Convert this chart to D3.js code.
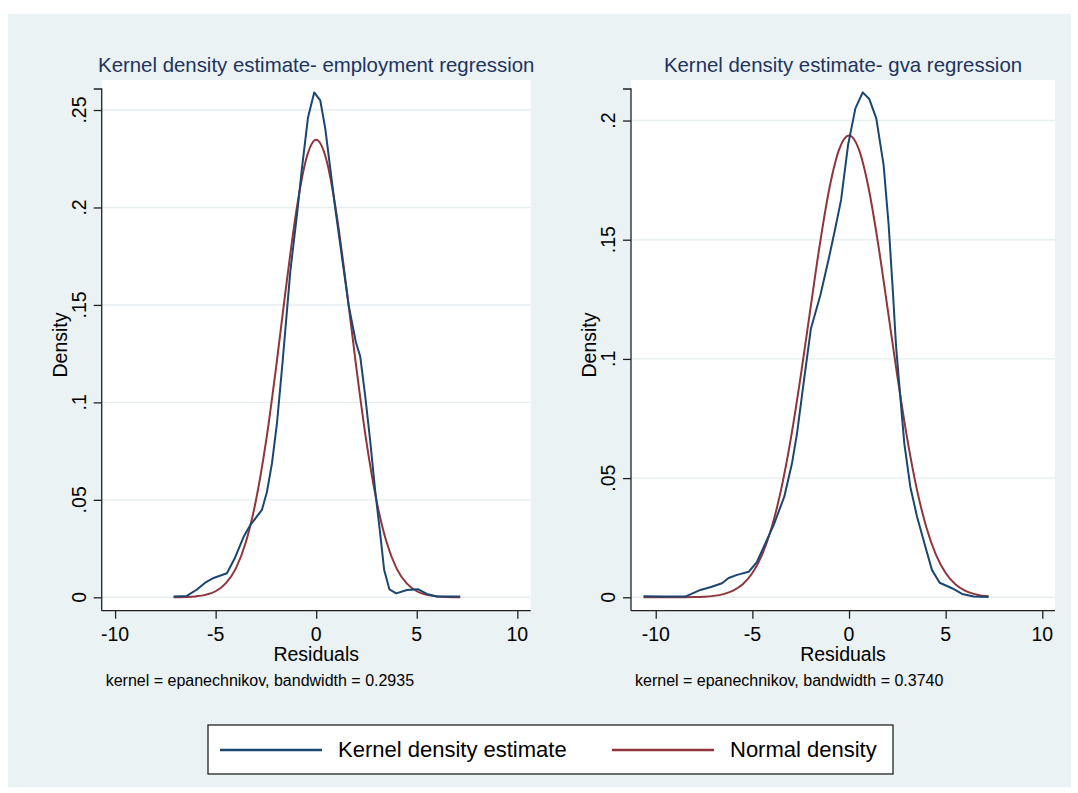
<!DOCTYPE html>
<html>
<head>
<meta charset="utf-8">
<script src="https://cdn.jsdelivr.net/npm/d3@7"></script>
<style>
  body { margin: 0; background: #ffffff; }
  text { font-family: 'Liberation Sans', Arial, sans-serif; }
</style>
</head>
<body>
<svg id="chart" width="1078" height="793"></svg>
<script>
// values
const seriesNames = ['Kernel density estimate', 'Normal density'];
const xTicks = [-10, -5, 0, 5, 10];

// employment regression
const empKdeX = [-7.09, -6.43, -5.93, -5.52, -5.10, -4.44, -4.05, -3.61, -3.28, -2.70, -2.45, -2.20, -1.95, -1.66, -1.29, -0.96, -0.71, -0.41, -0.10, 0.20, 0.45, 0.94, 1.61, 1.97, 2.19, 2.44, 2.68, 2.93, 3.18, 3.38, 3.64, 3.98, 4.51, 5.08, 5.50, 6.00, 7.16];
const empKdeY = [0.0004, 0.0007, 0.0040, 0.0075, 0.0099, 0.0123, 0.0200, 0.0310, 0.0370, 0.0448, 0.0540, 0.0687, 0.0893, 0.1220, 0.1670, 0.1960, 0.2200, 0.2460, 0.2590, 0.2550, 0.2406, 0.2000, 0.1500, 0.1310, 0.1235, 0.1030, 0.0807, 0.0550, 0.0328, 0.0140, 0.0041, 0.0020, 0.0037, 0.0041, 0.0017, 0.0004, 0.0004];
const empNormX = [-7.09, -6.5, -6, -5.5, -5, -4.5, -4, -3.5, -3, -2.5, -2, -1.5, -1, -0.5, 0, 0.5, 1, 1.5, 2, 2.5, 3, 3.5, 4, 4.5, 5, 5.5, 6, 6.5, 7.16];
const empNormY = [0.00004, 0.00016, 0.00046, 0.00125, 0.0031, 0.0071, 0.0147, 0.0282, 0.0495, 0.0796, 0.1175, 0.1591, 0.1974, 0.2247, 0.2347, 0.2247, 0.1974, 0.1591, 0.1175, 0.0796, 0.0495, 0.0282, 0.0147, 0.0071, 0.0031, 0.00125, 0.00046, 0.00016, 0.00004];
const empYTicks = [0, 0.05, 0.1, 0.15, 0.2, 0.25];

// gva regression
const gvaKdeX = [-10.63, -9.59, -8.47, -7.69, -7.18, -6.57, -6.23, -5.79, -5.19, -4.76, -4.33, -3.90, -3.35, -2.95, -2.69, -2.35, -1.97, -1.48, -1.05, -0.71, -0.41, -0.05, 0.33, 0.71, 1.05, 1.41, 1.79, 2.05, 2.27, 2.43, 2.58, 2.86, 3.17, 3.52, 3.95, 4.29, 4.69, 5.33, 5.85, 6.45, 7.22];
const gvaKdeY = [0.0004, 0.0003, 0.0003, 0.0031, 0.0042, 0.0059, 0.0081, 0.0094, 0.0107, 0.0149, 0.0226, 0.0303, 0.0422, 0.0562, 0.0688, 0.0898, 0.1128, 0.1268, 0.1420, 0.1548, 0.1667, 0.1897, 0.2051, 0.2118, 0.2090, 0.2009, 0.1813, 0.1562, 0.1282, 0.1058, 0.0911, 0.0646, 0.0464, 0.0338, 0.0212, 0.0115, 0.0061, 0.0038, 0.0014, 0.0003, 0.0001];
const gvaNormX = [-10.63, -10, -9.5, -9, -8.5, -8, -7.5, -7, -6.5, -6, -5.5, -5, -4.5, -4, -3.5, -3, -2.5, -2, -1.5, -1, -0.5, 0, 0.5, 1, 1.5, 2, 2.5, 3, 3.5, 4, 4.5, 5, 5.5, 6, 6.5, 7.22];
const gvaNormY = [0.000003, 0.000008, 0.00002, 0.00004, 0.00005, 0.0001, 0.00026, 0.0006, 0.00133, 0.00279, 0.00548, 0.0102, 0.0178, 0.0294, 0.0457, 0.0671, 0.0928, 0.1209, 0.1486, 0.1722, 0.1881, 0.1937, 0.1881, 0.1722, 0.1486, 0.1209, 0.0928, 0.0671, 0.0457, 0.0294, 0.0178, 0.0102, 0.00548, 0.00279, 0.00133, 0.0004];
const gvaYTicks = [0, 0.05, 0.1, 0.15, 0.2];

const colors = ['#1a476f', '#90353b'];
const svg = d3.select('#chart');

// graph region
svg.append('rect')
  .attr('x', 8).attr('y', 14)
  .attr('width', 1063).attr('height', 773)
  .attr('fill', '#eaf2f3');

// Stata style labels: .25, .1, 0
const fmtY = (d) => d === 0 ? '0' : d3.format('.2~f')(d).replace(/^0/, '');

function drawPanel(p) {
  const x = d3.scaleLinear().domain(p.xDomain).range([p.left, p.right]);
  const y = d3.scaleLinear().domain(p.yDomain).range([p.bottom, p.top]);
  const g = svg.append('g');

  g.append('rect')
    .attr('x', p.left).attr('y', p.top)
    .attr('width', p.right - p.left).attr('height', p.bottom - p.top)
    .attr('fill', '#ffffff');

  // grid lines
  g.selectAll('.grid')
    .data(p.yTicks)
    .enter()
    .append('line')
    .attr('x1', p.left).attr('x2', p.right)
    .attr('y1', (d) => y(d)).attr('y2', (d) => y(d))
    .attr('stroke', '#e6eef0')
    .attr('stroke-width', 1.4);

  // axes
  const yAxis = d3.axisLeft(y).tickValues(p.yTicks).tickSize(8).tickFormat('');
  g.append('g')
    .attr('transform', `translate(${p.left},0)`)
    .call(yAxis)
    .call((a) => a.select('.domain').attr('d', `M-8,${p.axisTop}H0V${p.bottom}`).attr('stroke', '#222').attr('stroke-width', 1.3))
    .call((a) => a.selectAll('.tick line').attr('stroke', '#222').attr('stroke-width', 1.3));

  const xAxis = d3.axisBottom(x).tickValues(xTicks).tickSize(8).tickFormat('');
  g.append('g')
    .attr('transform', `translate(0,${p.bottom})`)
    .call(xAxis)
    .call((a) => a.select('.domain').attr('d', `M${p.left},0H${p.right}`).attr('stroke', '#222').attr('stroke-width', 1.3))
    .call((a) => a.selectAll('.tick line').attr('stroke', '#222').attr('stroke-width', 1.3));

  // tick labels
  g.selectAll('.ylab')
    .data(p.yTicks)
    .enter()
    .append('text')
    .attr('transform', (d) => `translate(${p.left - 16},${y(d)}) rotate(-90)`)
    .style('text-anchor', 'middle')
    .style('font-size', '19.5px')
    .attr('fill', '#000')
    .text(fmtY);

  g.selectAll('.xlab')
    .data(xTicks)
    .enter()
    .append('text')
    .attr('x', (d) => x(d))
    .attr('y', 641)
    .style('text-anchor', 'middle')
    .style('font-size', '19.5px')
    .attr('fill', '#000')
    .text((d) => d);

  // axis titles
  g.append('text')
    .attr('transform', `translate(${p.left - 35},345) rotate(-90)`)
    .style('text-anchor', 'middle')
    .style('font-size', '19.5px')
    .text('Density');

  g.append('text')
    .attr('x', (p.left + p.right) / 2)
    .attr('y', 661)
    .style('text-anchor', 'middle')
    .style('font-size', '19.5px')
    .text('Residuals');

  g.append('text')
    .attr('x', (p.left + p.right) / 2)
    .attr('y', 72)
    .style('text-anchor', 'middle')
    .style('font-size', '20.4px')
    .attr('fill', '#22335e')
    .text(p.title);

  g.append('text')
    .attr('x', p.left + 4)
    .attr('y', 686)
    .style('font-size', '16px')
    .text(p.note);

  // curves
  const kde = p.kdeX.map((v, i) => [v, p.kdeY[i]]);
  const norm = p.normX.map((v, i) => [v, p.normY[i]]);

  g.append('path')
    .attr('d', d3.line().x((d) => x(d[0])).y((d) => y(d[1])).curve(d3.curveMonotoneX)(norm))
    .attr('fill', 'none')
    .attr('stroke', colors[1])
    .attr('stroke-width', 2);

  g.append('path')
    .attr('d', d3.line().x((d) => x(d[0])).y((d) => y(d[1]))(kde))
    .attr('fill', 'none')
    .attr('stroke', colors[0])
    .attr('stroke-width', 2)
    .attr('stroke-linejoin', 'round');
}

drawPanel({
  title: 'Kernel density estimate- employment regression',
  note: 'kernel = epanechnikov, bandwidth = 0.2935',
  left: 101.7, right: 530.7, top: 80, bottom: 610.7, axisTop: 89,
  xDomain: [-10.665, 10.665], yDomain: [-0.00688, 0.2654],
  yTicks: empYTicks,
  kdeX: empKdeX, kdeY: empKdeY, normX: empNormX, normY: empNormY
});

drawPanel({
  title: 'Kernel density estimate- gva regression',
  note: 'kernel = epanechnikov, bandwidth = 0.3740',
  left: 631, right: 1055, top: 80, bottom: 610.7, axisTop: 89,
  xDomain: [-11.28, 10.657], yDomain: [-0.00562, 0.217],
  yTicks: gvaYTicks,
  kdeX: gvaKdeX, kdeY: gvaKdeY, normX: gvaNormX, normY: gvaNormY
});

// legend
const legend = svg.append('g');
legend.append('rect')
  .attr('x', 208).attr('y', 725)
  .attr('width', 685).attr('height', 49)
  .attr('fill', '#ffffff')
  .attr('stroke', '#111')
  .attr('stroke-width', 1.2);

const legendX = d3.scaleOrdinal().domain(seriesNames).range([220, 612]);
legend.selectAll('.item')
  .data(seriesNames)
  .enter()
  .append('line')
  .attr('x1', (d) => legendX(d)).attr('x2', (d) => legendX(d) + 102)
  .attr('y1', 750).attr('y2', 750)
  .attr('stroke', (d, i) => colors[i])
  .attr('stroke-width', 2.5);

legend.selectAll('.label')
  .data(seriesNames)
  .enter()
  .append('text')
  .attr('x', (d) => legendX(d) + 118)
  .attr('y', 757)
  .style('font-size', '22px')
  .text((d) => d);
</script>
</body>
</html>
